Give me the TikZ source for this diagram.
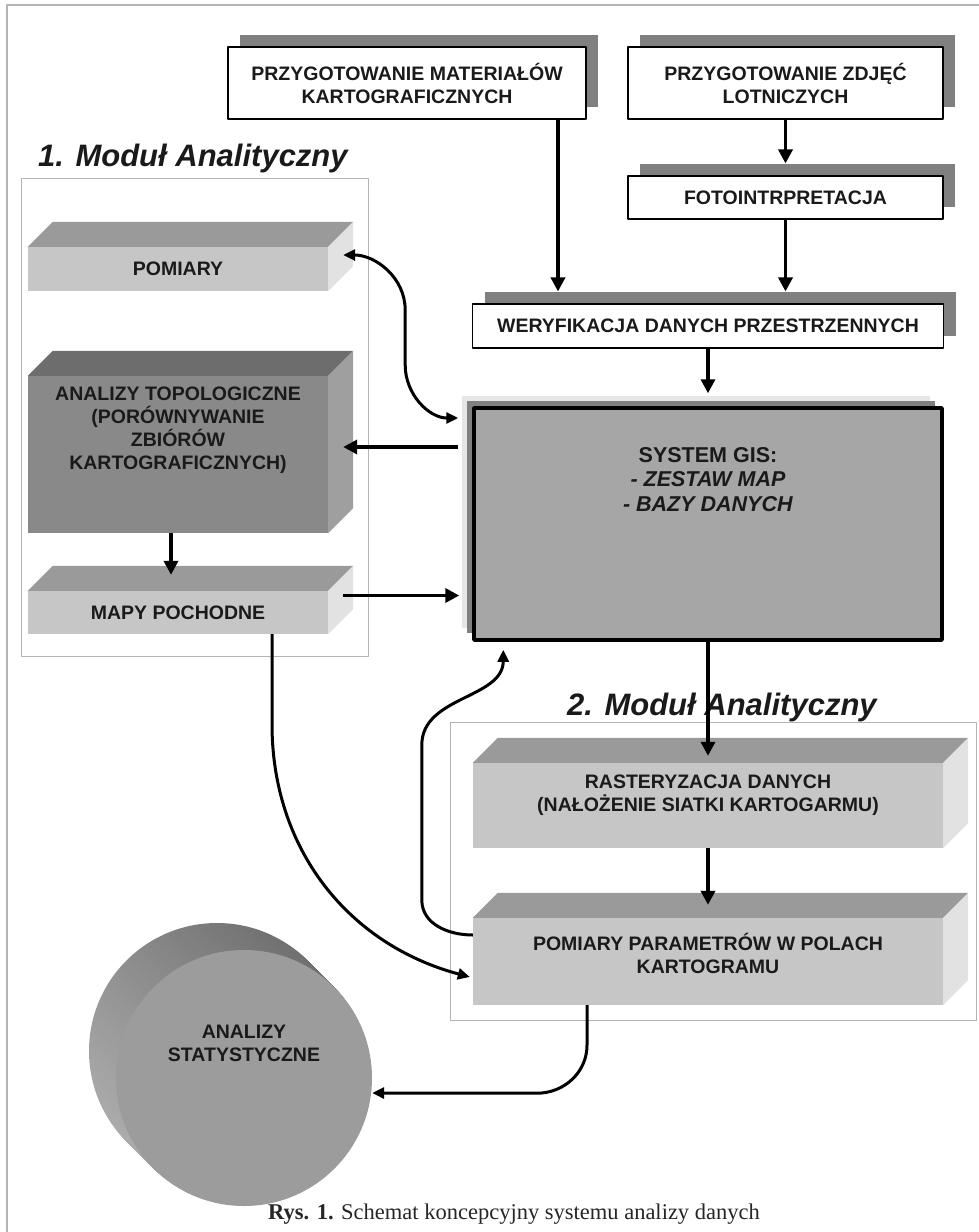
\documentclass[tikz,border=0pt]{standalone}
\usepackage{fontspec}
\setmainfont{Liberation Sans}
\newfontfamily\podpisfont{Liberation Serif}
\usetikzlibrary{arrows.meta,shadows}

\definecolor{tekst}{HTML}{1A1A1A}
\definecolor{cien}{HTML}{808080}
\definecolor{ramka}{HTML}{B4B4B4}
\definecolor{przodjasny}{HTML}{C6C6C6}
\definecolor{gorajasny}{HTML}{9A9A9A}
\definecolor{bokjasny}{HTML}{E2E2E2}
\definecolor{przodciemny}{HTML}{898989}
\definecolor{goraciemny}{HTML}{6D6D6D}
\definecolor{bokciemny}{HTML}{9F9F9F}
\definecolor{gisszary}{HTML}{A6A6A6}
\definecolor{gistlo}{HTML}{E6E6E6}
\definecolor{kolo}{HTML}{9C9C9C}

% top and right faces of a block
\newcommand{\bryla}[3]{%
  \fill[#2] (#1.north west) -- ++(25,-25) -- ([shift={(25,-25)}]#1.north east) -- (#1.north east) -- cycle;
  \fill[#3] (#1.north east) -- ++(25,-25) -- ([shift={(25,-25)}]#1.south east) -- (#1.south east) -- cycle;
}

\begin{document}
\begin{tikzpicture}[x=1pt,y=-1pt,line join=round,
  every node/.style={text=tekst,align=center,inner sep=0pt,
    font=\fontsize{19.5}{23}\selectfont\bfseries},
  bialy/.style={draw=black,line width=1.1pt,fill=white,
    drop shadow={shadow xshift=12pt,shadow yshift=12pt,fill=cien,opacity=1}},
  pijl/.style={line width=3.6pt,-{Triangle[length=14pt,width=14pt]}},
  luk/.style={line width=3pt,-{Triangle[length=12pt,width=11pt]}},
  tytul/.style={anchor=base west,font=\fontsize{31}{36}\selectfont\bfseries\itshape},
  modul/.style={draw=ramka,line width=0.9pt}]
  \useasboundingbox (0,0) rectangle (978,1232);

  % frames
  \draw[draw=ramka,line width=1.2pt] (7,1240) -- (7,5) -- (985,5);
  \draw[modul] (21,178) rectangle (368,656);
  \draw[modul] (450,722) rectangle (976,1020);
  \node[tytul] (tytul1) at (38,166) {1. Moduł Analityczny};
  \node[tytul] (tytul2) at (567,715) {2. Moduł Analityczny};

  % preparation
  \node[bialy,minimum width=358pt,minimum height=72pt] (matk) at (407,83) {PRZYGOTOWANIE MATERIAŁÓW\\KARTOGRAFICZNYCH};
  \node[bialy,minimum width=315pt,minimum height=72pt] (zdj) at (785.5,83) {PRZYGOTOWANIE ZDJĘĆ\\LOTNICZYCH};
  \node[bialy,minimum width=315pt,minimum height=43pt] (foto) at (785.5,197.5) {FOTOINTRPRETACJA};
  \node[bialy,minimum width=471pt,minimum height=44pt] (wer) at (708,326) {WERYFIKACJA DANYCH PRZESTRZENNYCH};

  % GIS
  \node[draw=black,line width=3.5pt,fill=gisszary,minimum width=468pt,minimum height=232pt,
    drop shadow={shadow xshift=-12pt,shadow yshift=12pt,fill=gistlo,opacity=1},
    drop shadow={shadow xshift=-7pt,shadow yshift=7pt,fill=cien,opacity=1},
    label={[anchor=center,yshift=44.5pt,font=\fontsize{21.5}{24.5}\selectfont\bfseries]center:{SYSTEM GIS:\\\textit{- ZESTAW MAP}\\\textit{- BAZY DANYCH}}}]
    (gis) at (708,524) {};

  % module 1
  \node[fill=przodjasny,minimum width=300pt,minimum height=44pt] (pom) at (178,269) {POMIARY};
  \bryla{pom}{gorajasny}{bokjasny}
  \node[fill=przodciemny,minimum width=300pt,minimum height=157pt,
    label={[anchor=center,yshift=24.5pt]center:{ANALIZY TOPOLOGICZNE\\(PORÓWNYWANIE\\ZBIÓRÓW\\KARTOGRAFICZNYCH)}}]
    (topo) at (178,454.5) {};
  \bryla{topo}{goraciemny}{bokciemny}
  \node[fill=przodjasny,minimum width=300pt,minimum height=43pt] (mapy) at (178,612.5) {MAPY POCHODNE};
  \bryla{mapy}{gorajasny}{bokjasny}

  % module 2
  \node[fill=przodjasny,minimum width=470pt,minimum height=85pt,
    label={[anchor=center,yshift=10.5pt]center:{RASTERYZACJA DANYCH\\(NAŁOŻENIE SIATKI KARTOGARMU)}}]
    (ras) at (708,805.5) {};
  \bryla{ras}{gorajasny}{bokjasny}
  \node[fill=przodjasny,minimum width=470pt,minimum height=87pt,
    label={[anchor=center,yshift=8pt]center:{POMIARY PARAMETRÓW W POLACH\\KARTOGRAMU}}]
    (par) at (708,961.5) {};
  \bryla{par}{gorajasny}{bokjasny}

  % statistics
  \coordinate (statc) at (244,1078);
  \foreach \k in {27,...,1}
    \shade[top color=black!56,bottom color=black!33,shading angle=-45] ([shift={(-\k,-\k)}]statc) circle[radius=128];
  \node[circle,fill=kolo,minimum size=256pt,
    label={[anchor=center,yshift=35pt]center:{ANALIZY\\STATYSTYCZNE}}] (stat) at (statc) {};

  \node[anchor=north,text=black!85,font=\podpisfont\fontsize{22.5}{26}\selectfont] (podpis) at (514,1204)
    {\textbf{Rys. 1.} Schemat koncepcyjny systemu analizy danych};

  % straight arrows
  \draw[pijl] ([xshift=151pt]matk.south) -- ([xshift=-150pt,yshift=12pt]wer.north);
  \draw[pijl] (zdj.south) -- ([yshift=12pt]foto.north);
  \draw[pijl] (foto.south) -- ([xshift=77.5pt,yshift=12pt]wer.north);
  \draw[pijl] (wer.south) -- ([yshift=13pt]gis.north);
  \draw[pijl] (gis.south) -- ([yshift=7pt]ras.north);
  \draw[pijl] (ras.south) -- ([yshift=13pt]par.north);
  \draw[pijl] ([xshift=-14pt,yshift=77pt]gis.west) -- ([xshift=15pt,yshift=7.5pt]topo.east);
  \draw[pijl] ([xshift=15pt,yshift=17pt]mapy.east) -- ([xshift=-13pt,yshift=-71.5pt]gis.west);
  \draw[pijl] ([xshift=-7pt]topo.south) -- ([xshift=-7pt,yshift=16pt]mapy.north);

  % curved arrows
  \draw[luk,{Triangle[length=12pt,width=11pt]}-{Triangle[length=12pt,width=11pt]}]
    ([xshift=15pt,yshift=14pt]pom.east) to[out=0,in=90] ++(62,55) -- ++(0,55)
    to[out=-90,in=180] ([xshift=-14pt,yshift=106pt]gis.west);
  \draw[luk] ([yshift=26.5pt]par.west) to[out=180,in=-90] ++(-51,-35) -- ++(0,-155)
    to[out=90,in=-90] ([xshift=31pt,yshift=-8pt]gis.south west);
  \draw[luk] ([xshift=94pt]mapy.south) -- ++(0,90) to[out=-90,in=165] ([xshift=-3pt,yshift=-15.5pt]par.west);
  \draw[luk] ([xshift=-121pt]par.south) -- ++(0,40) to[out=-90,in=0] ++(-50,48) -- ([yshift=-15pt]stat.east);
\end{tikzpicture}
\end{document}
